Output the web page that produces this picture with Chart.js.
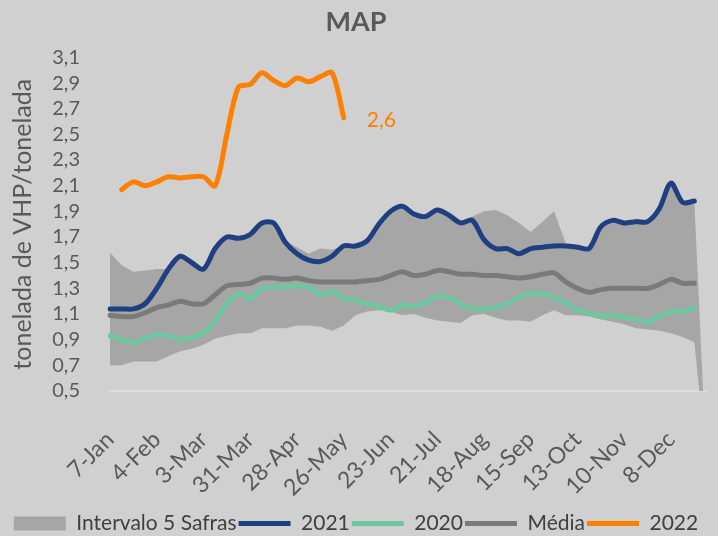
<!DOCTYPE html>
<html>
<head>
<meta charset="utf-8">
<script src="https://cdn.jsdelivr.net/npm/chart.js"></script>
<style>
    html, body { margin: 0; padding: 0; background: #d0d0d0; }
    #wrap { width: 718px; height: 536px; }
</style>
</head>
<body>
<div id="wrap"><canvas id="mapChart"></canvas></div>
<script>
const semanas = ['7-Jan','14-Jan','21-Jan','28-Jan','4-Feb','11-Feb','18-Feb','25-Feb','3-Mar','10-Mar','17-Mar','24-Mar',
    '31-Mar','7-Apr','14-Apr','21-Apr','28-Apr','5-May','12-May','19-May','26-May','2-Jun','9-Jun','16-Jun',
    '23-Jun','30-Jun','7-Jul','14-Jul','21-Jul','28-Jul','4-Aug','11-Aug','18-Aug','25-Aug','1-Sep','8-Sep',
    '15-Sep','22-Sep','29-Sep','6-Oct','13-Oct','20-Oct','27-Oct','3-Nov','10-Nov','17-Nov','24-Nov','1-Dec',
    '8-Dec','15-Dec','22-Dec','29-Dec'];

// faixa das 5 safras (max / min)
const intervaloMax = [1.58,1.48,1.43,1.44,1.45,1.45,1.55,1.50,1.45,1.61,1.70,1.69,1.72,1.81,1.81,1.67,1.62,1.57,1.61,1.60,
    1.63,1.63,1.67,1.80,1.90,1.94,1.88,1.86,1.91,1.87,1.81,1.86,1.90,1.91,1.87,1.81,1.74,1.82,1.90,1.65,
    1.62,1.61,1.78,1.83,1.81,1.82,1.82,1.92,2.12,1.97,1.98,0];
const intervaloMin = [0.70,0.70,0.73,0.73,0.73,0.77,0.81,0.83,0.86,0.91,0.93,0.95,0.95,0.99,0.99,0.99,1.01,1.01,1.00,0.97,
    1.01,1.09,1.12,1.13,1.12,1.09,1.10,1.07,1.05,1.04,1.03,1.09,1.10,1.07,1.05,1.05,1.04,1.09,1.13,1.09,
    1.09,1.08,1.06,1.04,1.02,0.99,0.98,0.97,0.95,0.92,0.88,0];

const valores2021 = [1.14,1.14,1.14,1.18,1.30,1.45,1.55,1.50,1.45,1.61,1.70,1.69,1.72,1.81,1.81,1.66,1.57,1.52,1.51,1.55,
    1.63,1.63,1.67,1.80,1.90,1.94,1.88,1.86,1.91,1.87,1.81,1.83,1.68,1.61,1.61,1.57,1.61,1.62,1.63,1.63,
    1.62,1.61,1.78,1.83,1.81,1.82,1.82,1.92,2.12,1.97,1.98,null];
const valores2020 = [0.93,0.90,0.88,0.91,0.94,0.93,0.90,0.92,0.95,1.05,1.18,1.26,1.22,1.30,1.31,1.31,1.32,1.31,1.25,1.28,
    1.22,1.21,1.18,1.16,1.13,1.17,1.16,1.19,1.24,1.23,1.18,1.14,1.14,1.15,1.18,1.23,1.26,1.26,1.23,1.19,
    1.13,1.11,1.08,1.09,1.07,1.06,1.04,1.08,1.12,1.12,1.15,null];
const valoresMedia = [1.09,1.08,1.08,1.11,1.15,1.17,1.20,1.18,1.18,1.25,1.32,1.33,1.34,1.38,1.38,1.37,1.38,1.36,1.35,1.35,
    1.35,1.35,1.36,1.37,1.40,1.43,1.40,1.41,1.44,1.43,1.41,1.41,1.40,1.40,1.39,1.38,1.39,1.41,1.42,1.35,
    1.30,1.27,1.29,1.30,1.30,1.30,1.30,1.33,1.37,1.34,1.34,null];
const valores2022 = [null,2.07,2.13,2.10,2.13,2.17,2.16,2.17,2.17,2.10,2.50,2.87,2.89,2.98,2.92,2.88,2.94,2.91,2.95,2.98,2.63];

const yMin = 0.5;
const yMax = 3.1;
const yPaso = 0.2;

const fuente = "Lato, 'DejaVu Sans Condensed', sans-serif";
const fmt = v => v.toFixed(1).replace('.', ',');

// etiqueta do ultimo valor de 2022
const etiquetaFinal = {
    id: 'etiquetaFinal',
    afterDatasetsDraw(chart) {
        const idx = chart.data.datasets.findIndex(d => d.label === '2022');
        const meta = chart.getDatasetMeta(idx);
        const data = chart.data.datasets[idx].data;
        let last = data.length - 1;
        while (last >= 0 && data[last] == null) last--;
        const pt = meta.data[last];
        const ctx = chart.ctx;
        ctx.save();
        ctx.font = "21px " + fuente;
        ctx.fillStyle = '#ff7f00';
        ctx.textBaseline = 'middle';
        ctx.fillText(fmt(data[last]), pt.x + 23, pt.y + 3);
        ctx.restore();
    }
};

const ctx = document.getElementById('mapChart').getContext('2d');

new Chart(ctx, {
    type: 'line',
    data: {
        labels: semanas,
        datasets: [
            {
                label: 'Intervalo 5 Safras',
                data: intervaloMax,
                fill: '+1',
                backgroundColor: '#a6a6a6',
                borderColor: '#a6a6a6',
                borderWidth: 0,
                pointRadius: 0,
                tension: 0,
                order: 10,
                pointStyle: 'rect'
            },
            {
                label: 'min',
                data: intervaloMin,
                fill: false,
                borderWidth: 0,
                borderColor: 'rgba(0,0,0,0)',
                pointRadius: 0,
                tension: 0,
                order: 11
            },
            {
                label: '2021',
                data: valores2021,
                borderColor: '#1f3f80',
                backgroundColor: '#1f3f80',
                borderWidth: 5,
                pointRadius: 0,
                tension: 0.3,
                borderCapStyle: 'round',
                fill: false,
                order: 2,
                pointStyle: 'line'
            },
            {
                label: '2020',
                data: valores2020,
                borderColor: '#6fc7a1',
                backgroundColor: '#6fc7a1',
                borderWidth: 5,
                pointRadius: 0,
                tension: 0.3,
                borderCapStyle: 'round',
                fill: false,
                order: 3,
                pointStyle: 'line'
            },
            {
                label: 'Média',
                data: valoresMedia,
                borderColor: '#7a7a7a',
                backgroundColor: '#7a7a7a',
                borderWidth: 5,
                pointRadius: 0,
                tension: 0.3,
                borderCapStyle: 'round',
                fill: false,
                order: 4,
                pointStyle: 'line'
            },
            {
                label: '2022',
                data: valores2022,
                borderColor: '#ff7f00',
                backgroundColor: '#ff7f00',
                borderWidth: 5,
                pointRadius: 0,
                tension: 0.3,
                borderCapStyle: 'round',
                fill: false,
                order: 1,
                pointStyle: 'line'
            }
        ]
    },
    options: {
        responsive: true,
        maintainAspectRatio: false,
        animation: false,
        layout: { padding: { left: 6, right: 12, top: 4, bottom: -8 } },
        plugins: {
            title: {
                display: true,
                text: 'MAP',
                color: '#595959',
                font: { family: fuente, size: 27, weight: 'bold' },
                padding: { top: 2, bottom: 19 }
            },
            legend: {
                position: 'bottom',
                labels: {
                    usePointStyle: true,
                    pointStyleWidth: 52,
                    boxHeight: 14,
                    color: '#404040',
                    font: { family: fuente, size: 21 },
                    padding: 2,
                    filter: item => item.text !== 'min',
                    sort: (a, b) => a.datasetIndex - b.datasetIndex
                }
            },
            tooltip: { enabled: false }
        },
        scales: {
            x: {
                offset: false,
                grid: { display: false },
                border: { display: true, color: '#dcdcdc', width: 2 },
                afterFit: scale => {
                    scale.height = 120;
                    scale.paddingLeft = 0;
                    scale.paddingRight = 0;
                },
                ticks: {
                    autoSkip: false,
                    maxRotation: 45,
                    minRotation: 45,
                    color: '#595959',
                    font: { family: fuente, size: 23 },
                    padding: 27,
                    callback: function(value, index) {
                        return index % 4 === 0 ? this.getLabelForValue(value) : '';
                    }
                }
            },
            y: {
                min: yMin,
                max: yMax,
                grid: { display: false },
                border: { display: false },
                afterFit: scale => { scale.width = 104; },
                ticks: {
                    autoSkip: false,
                    stepSize: yPaso,
                    color: '#595959',
                    font: { family: fuente, size: 20 },
                    padding: 22,
                    callback: v => fmt(v)
                },
                title: {
                    display: true,
                    text: 'tonelada de VHP/tonelada',
                    color: '#595959',
                    font: { family: fuente, size: 25 },
                    padding: { top: 2, bottom: 4 }
                }
            }
        }
    },
    plugins: [etiquetaFinal]
});
</script>
</body>
</html>
